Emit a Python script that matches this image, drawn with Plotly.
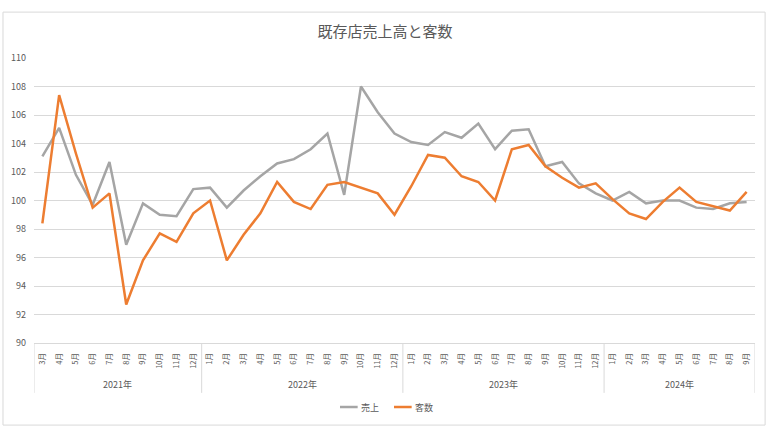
import plotly.graph_objects as go

years = ["2021年", "2022年", "2023年", "2024年"]
months_2021 = ["3月", "4月", "5月", "6月", "7月", "8月", "9月", "10月", "11月", "12月"]
months_2022 = ["1月", "2月", "3月", "4月", "5月", "6月", "7月", "8月", "9月", "10月", "11月", "12月"]
months_2023 = ["1月", "2月", "3月", "4月", "5月", "6月", "7月", "8月", "9月", "10月", "11月", "12月"]
months_2024 = ["1月", "2月", "3月", "4月", "5月", "6月", "7月", "8月", "9月"]
months_by_year = [months_2021, months_2022, months_2023, months_2024]

sales = [103.1, 105.1, 101.8, 99.7, 102.7, 96.9, 99.8, 99.0, 98.9, 100.8,
         100.9, 99.5, 100.7, 101.7, 102.6, 102.9, 103.6, 104.7, 100.4, 108.0, 106.2, 104.7,
         104.1, 103.9, 104.8, 104.4, 105.4, 103.6, 104.9, 105.0, 102.4, 102.7, 101.2, 100.5,
         100.0, 100.6, 99.8, 100.0, 100.0, 99.5, 99.4, 99.8, 99.9]
customers = [98.4, 107.4, 103.3, 99.5, 100.5, 92.7, 95.8, 97.7, 97.1, 99.1,
             100.0, 95.8, 97.6, 99.1, 101.3, 99.9, 99.4, 101.1, 101.3, 100.9, 100.5, 99.0,
             101.0, 103.2, 103.0, 101.7, 101.3, 100.0, 103.6, 103.9, 102.4, 101.6, 100.9, 101.2,
             100.1, 99.1, 98.7, 99.9, 100.9, 99.9, 99.6, 99.3, 100.6]

series_names = ["売上", "客数"]
series_colors = ["#A5A5A5", "#ED7D31"]

month_labels = [m for g in months_by_year for m in g]
x = list(range(len(month_labels)))

FONT = "Noto Sans CJK JP"
TXT = "#595959"
GRID = "#D9D9D9"

fig = go.Figure()
for name, vals, col in zip(series_names, [sales, customers], series_colors):
    fig.add_trace(go.Scatter(x=x, y=vals, mode="lines", name=name,
                             line=dict(color=col, width=2.5), showlegend=False))

shapes = []
annotations = []
start = 0
bounds = [-0.5]
for yr, ms in zip(years, months_by_year):
    end = start + len(ms)
    annotations.append(dict(x=(start + end - 1) / 2, y=-0.147, xref="x", yref="paper",
                            text=yr, showarrow=False, yanchor="middle",
                            font=dict(family=FONT, size=9, color=TXT)))
    bounds.append(end - 0.5)
    start = end
for b in bounds:
    shapes.append(dict(type="line", xref="x", yref="paper", x0=b, x1=b, y0=0, y1=-0.175,
                       line=dict(color=GRID, width=1)))
# outer chart border
shapes.append(dict(type="rect", xref="paper", yref="paper", x0=-0.043, x1=1.014,
                   y0=-0.288, y1=1.161, line=dict(color=GRID, width=1), layer="below"))

# compact legend (Excel style short line keys)
legend_y = -0.2246
legend_x = [0.4244, 0.4993]
for name, col, lx in zip(series_names, series_colors, legend_x):
    shapes.append(dict(type="line", xref="paper", yref="paper", x0=lx, x1=lx + 0.0245,
                       y0=legend_y, y1=legend_y, line=dict(color=col, width=2.5)))
    annotations.append(dict(x=lx + 0.027, y=legend_y, xref="paper", yref="paper",
                            text=name, showarrow=False, xanchor="left", yanchor="middle",
                            font=dict(family=FONT, size=9, color=TXT)))

fig.update_layout(
    width=770, height=433,
    margin=dict(l=34, r=15, t=58, b=90),
    paper_bgcolor="white", plot_bgcolor="white",
    title=dict(text="既存店売上高と客数", x=0.5, xref="container", xanchor="center",
               y=1 - 32 / 433, yref="container", yanchor="middle",
               font=dict(family=FONT, size=15, color=TXT)),
    font=dict(family=FONT, color=TXT),
    showlegend=False,
    xaxis=dict(range=[-0.5, len(x) - 0.5], tickmode="array", tickvals=x, ticktext=month_labels,
               tickangle=-90, tickfont=dict(family=FONT, size=7.5, color=TXT),
               showgrid=False, zeroline=False, showline=True, linecolor=GRID, linewidth=1,
               ticks="", ticklabelstandoff=6, fixedrange=True),
    yaxis=dict(range=[90, 110], dtick=2, showgrid=True, gridcolor=GRID, gridwidth=1,
               zeroline=False, showline=False, ticks="",
               tickfont=dict(family=FONT, size=9, color=TXT), ticklabelstandoff=7),
    shapes=shapes,
    annotations=annotations,
)

fig.write_html("out.html")
